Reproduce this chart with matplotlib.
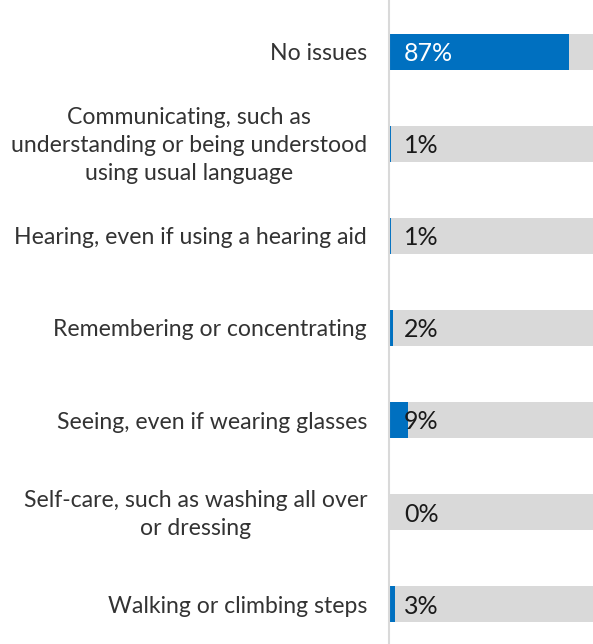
import matplotlib.pyplot as plt

plt.rcParams['font.family'] = ['Lato', 'DejaVu Sans']

categories = [
    'No issues',
    'Communicating, such as\nunderstanding or being understood\nusing usual language',
    'Hearing, even if using a hearing aid',
    'Remembering or concentrating',
    'Seeing, even if wearing glasses',
    'Self-care, such as washing all over\nor dressing',
    'Walking or climbing steps',
]
values = [87, 1, 1, 2, 9, 0, 3]

BLUE = '#0070c0'
GREY = '#d9d9d9'

W, H = 593, 644
fig = plt.figure(figsize=(W / 100, H / 100), dpi=100)
# axes runs from the divider line to just past the right edge
ax = fig.add_axes([389 / W, 0, (596 - 389) / W, 1])

ys = list(range(len(categories)))
ax.barh(ys, [100] * len(ys), height=0.39, color=GREY, zorder=1)
ax.barh(ys, values, height=0.39, color=BLUE, zorder=2)

for y, v in zip(ys, values):
    col = 'white' if v > 50 else '#1a1a1a'
    ax.text(7.2, y + 0.02, f'{v}%', color=col, fontsize=18, va='center',
            ha='left', zorder=3)

for y, lab in zip(ys, categories):
    ax.annotate(lab, xy=(0, y), xycoords=('axes fraction', 'data'),
                xytext=(-22, -2), textcoords='offset pixels',
                ha='right', va='center', multialignment='center',
                fontsize=16.6, color='#333333', linespacing=1.4)

ax.set_xlim(0, 100)
ax.set_ylim(6.43, -0.56)
ax.set_xticks([])
ax.set_yticks([])
for side in ['top', 'right', 'bottom']:
    ax.spines[side].set_visible(False)
ax.spines['left'].set_color(GREY)
ax.spines['left'].set_linewidth(1.5)

fig.savefig('out.png', dpi=100)
